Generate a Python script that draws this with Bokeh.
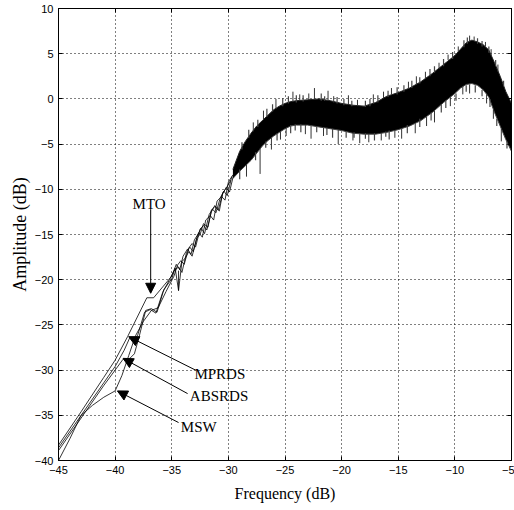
from bokeh.plotting import figure
from bokeh.models import (FixedTicker, LinearAxis, Arrow, NormalHead, ColumnDataSource, Range1d)
from bokeh.core.properties import value
from bokeh.embed import file_html
from bokeh.resources import INLINE

# ---------------- data ----------------
x_ticks = [-45, -40, -35, -30, -25, -20, -15, -10, -5]
y_ticks = [-40, -35, -30, -25, -20, -15, -10, -5, 0, 5, 10]

mto_x = [-45, -43, -41, -40, -38.9, -37.2, -36.6, -35.8, -35.0, -34.6, -34.3, -34.0, -33.6, -33.3,
         -33.0, -32.6, -32.3, -32.0, -31.6, -31.3, -31.0, -30.6, -30.3, -30.0, -29.6]
mto_y = [-38.3, -34.6, -30.8, -28.9, -26.3, -22.0, -22.0, -20.8, -19.6, -18.3, -18.9, -17.4, -16.6, -17.2,
         -15.6, -14.8, -15.3, -13.4, -12.9, -13.4, -11.3, -10.8, -11.2, -9.2, -8.4]

mprds_x = [-45, -43, -41, -40, -39.2, -38.7, -38.3, -38.0, -37.4, -36.9, -36.4, -35.8, -35.2,
           -34.8, -34.4, -34.1, -33.7, -33.4, -33.1, -32.7, -32.4, -32.1, -31.7, -31.4, -31.1,
           -30.7, -30.4, -30.1, -29.7]
mprds_y = [-38.6, -35.0, -31.4, -29.6, -27.8, -26.4, -26.7, -26.1, -23.6, -23.3, -23.7, -21.4, -20.0,
           -19.0, -18.6, -19.2, -17.0, -16.4, -16.9, -15.0, -14.3, -14.9, -12.8, -12.2, -12.6,
           -10.9, -10.2, -10.7, -8.6]

absrds_x = [-45, -43, -41, -40, -39.3, -38.7, -38.3, -37.9, -37.3, -36.8, -36.3, -35.7, -35.0,
            -34.7, -34.4, -34.1, -33.8, -33.5, -33.2, -32.8, -32.5, -32.2, -31.8, -31.5, -31.2,
            -30.8, -30.5, -30.2, -29.8]
absrds_y = [-38.9, -35.3, -31.7, -30.0, -28.8, -28.7, -28.2, -26.4, -23.4, -23.2, -23.6, -21.1, -19.9,
            -18.7, -21.2, -18.0, -17.6, -16.9, -17.4, -15.4, -15.0, -13.8, -14.2, -12.3, -11.9,
            -12.4, -10.4, -9.9, -9.0]

msw_x = [-45, -44, -43, -42, -41, -40.0, -39.4, -38.8, -38.2, -37.5, -36.8, -36.2, -35.5, -34.8,
         -34.5, -34.2, -33.9, -33.5, -33.2, -32.9, -32.5, -32.2, -31.9, -31.5, -31.2, -30.9,
         -30.5, -30.2, -29.9, -29.5]
msw_y = [-40.0, -37.6, -35.0, -33.9, -33.0, -32.3, -30.6, -28.4, -26.2, -24.6, -23.4, -23.1, -21.3, -19.6,
         -18.4, -17.9, -18.3, -16.5, -16.0, -16.4, -14.4, -14.0, -14.5, -12.5, -11.8, -12.3,
         -10.5, -9.8, -10.3, -8.2]

# noisy spectrum band: upper / lower envelope
band_x = [-29.6, -29.0, -28.5, -28.0, -27.5, -27.0, -26.5, -26.0, -25.5, -25.0, -24.5, -24.0,
          -23.0, -22.0, -21.0, -20.0, -19.0, -18.0, -17.0, -16.0, -15.0, -14.0, -13.0, -12.0,
          -11.0, -10.0, -9.5, -9.0, -8.5, -8.0, -7.5, -7.0, -6.5, -6.0, -5.5, -5.0]
band_hi = [-7.8, -5.8, -4.7, -3.8, -3.0, -2.4, -1.8, -1.2, -0.8, -0.5, -0.3, -0.2,
           -0.1, 0.0, -0.2, -0.5, -0.7, -0.8, -0.4, 0.3, 0.7, 1.2, 1.9, 2.8,
           3.8, 4.8, 5.5, 6.2, 6.5, 6.3, 6.0, 5.4, 4.0, 2.5, 0.8, -0.5]
band_lo = [-8.8, -8.0, -7.4, -6.8, -6.0, -5.2, -4.6, -4.1, -3.7, -3.3, -3.0, -2.9,
           -2.9, -3.1, -3.3, -3.5, -3.8, -3.9, -3.9, -3.7, -3.4, -3.0, -2.4, -1.5,
           -0.4, 0.6, 1.2, 1.6, 1.7, 1.5, 1.0, 0.2, -1.5, -3.0, -4.5, -5.8]

# long spikes (dark)
spike_x = [-34.4, -27.2, -26.2, -24.9, -23.2, -21.6, -20.3, -19.0, -17.6, -16.5, -14.7, -13.5,
           -11.8, -10.4, -8.7, -7.2, -5.9, -28.4, -25.4, -22.7, -18.4, -15.3, -12.5, -9.3, -6.6,
           -25.8, -24.3, -22.4, -21.2, -19.4, -17.2, -15.6, -14.1, -12.6, -8.7, -8.3, -7.3,
           -27.8, -26.9, -23.7, -22.9, -20.7, -18.6, -16.3, -13.4, -11.4, -10.6, -9.7, -6.8, -6.2]
spike_from = [-19.0, -5.5, -4.3, -3.2, -2.9, -3.2, -3.4, -3.8, -3.9, -3.8, -3.3, -2.7,
              -1.3, 0.2, 1.6, 0.5, -3.3, -7.2, -3.6, -3.0, -3.9, -3.5, -2.0, 1.4, -1.2,
              -1.1, -0.3, 0.0, -0.2, -0.6, -0.5, 0.5, 1.1, 2.2, 6.4, 6.4, 5.8,
              -3.6, -2.3, -0.2, -0.1, -0.4, -0.8, 0.1, 1.6, 3.3, 4.3, 5.2, 4.8, 3.0]
spike_to = [-21.2, -8.3, -5.6, -4.1, -3.9, -4.1, -5.0, -4.6, -4.8, -4.6, -4.4, -3.8,
            -2.6, -0.8, 0.6, -0.5, -4.7, -8.6, -4.5, -4.4, -4.9, -4.3, -3.0, 0.5, -2.2,
            0.0, 0.8, 1.2, 0.9, 0.4, 0.5, 1.2, 1.9, 3.0, 7.0, 6.9, 6.3,
            -2.6, -1.3, 0.5, 0.6, 0.3, -0.1, 0.8, 2.5, 4.0, 4.9, 5.8, 5.5, 3.8]

# short fuzz spikes along the band edges (lighter)
fuzz_x = [-28.8, -28.2, -27.4, -26.6, -26.1, -25.2, -24.7, -24.0, -23.4, -21.8, -21.5, -20.4,
          -19.8, -19.1, -17.9, -17.5, -16.8, -15.9, -15.1, -14.5, -13.8, -13.1, -12.2, -11.8,
          -11.0, -10.2, -9.2, -8.9, -8.0, -7.6, -7.0, -6.4, -5.7,
          -29.0, -27.6, -26.7, -25.7, -24.5, -24.1, -23.6, -22.2, -21.3, -20.8, -19.6, -18.9,
          -17.9, -17.1, -16.1, -15.8, -14.2, -13.1, -12.1, -11.2, -10.8, -9.9, -9.0, -8.2,
          -7.6, -6.9, -6.3, -5.4]
fuzz_from = [-5.6, -4.3, -3.1, -2.0, -1.4, -0.8, -0.5, -0.4, -0.3, -0.2, -0.2, -0.5,
             -0.7, -0.8, -0.9, -0.8, -0.4, 0.2, 0.5, 0.8, 1.2, 1.7, 2.5, 2.9,
             3.6, 4.4, 5.7, 6.1, 6.1, 5.8, 5.1, 3.6, 1.4,
             -7.8, -5.9, -4.7, -3.8, -2.9, -2.8, -2.8, -3.0, -3.2, -3.3, -3.6, -3.7,
             -3.8, -3.8, -3.6, -3.5, -2.9, -2.2, -1.5, -0.6, -0.2, 0.6, 1.5, 1.5,
             1.0, 0.0, -2.2, -4.7]
fuzz_to = [-4.8, -3.4, -2.3, -1.1, -0.6, 0.1, 0.3, 0.4, 0.4, 0.6, 0.3, 0.2,
           0.0, -0.2, -0.2, 0.0, 0.4, 0.9, 1.3, 1.5, 2.0, 2.4, 3.3, 3.6,
           4.4, 5.2, 6.5, 6.8, 6.7, 6.4, 5.8, 4.3, 2.0,
           -8.9, -6.8, -5.4, -4.6, -3.8, -3.5, -3.7, -3.7, -4.0, -4.3, -4.3, -4.3,
           -4.4, -4.6, -4.2, -4.5, -3.8, -3.1, -2.4, -1.5, -1.0, -0.2, 0.8, 0.7,
           0.3, -0.9, -3.0, -5.5]

# annotations
label_text = ["MTO", "MPRDS", "ABSRDS", "MSW"]
label_x = [-37.0, -33.0, -33.4, -34.2]
label_y = [-11.6, -30.4, -32.9, -36.3]
label_align = ["center", "left", "left", "left"]
arrow_x0 = [-36.86, -32.9, -33.6, -34.4]
arrow_y0 = [-12.2, -30.0, -32.6, -35.8]
arrow_x1 = [-36.86, -38.8, -39.3, -39.8]
arrow_y1 = [-21.5, -26.3, -28.7, -32.3]

# ---------------- figure ----------------
p = figure(width=514, height=510, x_range=Range1d(-45, -5), y_range=Range1d(-40, 10),
           output_backend="svg", toolbar_location=None,
           min_border_left=58, min_border_right=3, min_border_top=8, min_border_bottom=50)
p.background_fill_color = "white"
p.border_fill_color = "white"
p.outline_line_color = "black"
p.outline_line_width = 1

serif = "Liberation Serif"
sans = "Liberation Sans"

minus = "\u2212"
xover = {t: (minus + str(abs(t)) if t < 0 else str(t)) for t in x_ticks}
yover = {t: (minus + str(abs(t)) if t < 0 else str(t)) for t in y_ticks}

for ax in p.xaxis:
    ax.ticker = FixedTicker(ticks=x_ticks)
    ax.major_label_overrides = xover
    ax.axis_label = "Frequency (dB)"
    ax.axis_label_text_font_size = "16px"
for ax in p.yaxis:
    ax.ticker = FixedTicker(ticks=y_ticks)
    ax.major_label_overrides = yover
    ax.axis_label = "Amplitude (dB)"
    ax.axis_label_text_font_size = "18px"

for ax in list(p.xaxis) + list(p.yaxis):
    ax.axis_label_text_font = serif
    ax.axis_label_text_font_style = "normal"
    ax.axis_label_text_color = "black"
    ax.major_label_text_font = sans
    ax.major_label_text_font_size = "11px"
    ax.major_label_text_color = "black"
    ax.major_tick_in = 4
    ax.major_tick_out = 0
    ax.minor_tick_line_color = None
    ax.axis_line_color = "black"
    ax.major_tick_line_color = "black"
p.xaxis.axis_label_standoff = 8
p.xaxis.major_label_standoff = 5
p.yaxis.axis_label_standoff = 2
p.yaxis.major_label_standoff = 5

# right and top axes: inward ticks only, no labels
ra = LinearAxis(ticker=FixedTicker(ticks=y_ticks), major_label_overrides={t: "" for t in y_ticks},
                major_label_text_color=None, major_label_text_font_size="1px",
                major_tick_in=4, major_tick_out=0, minor_tick_line_color=None,
                major_label_standoff=0, axis_line_color="black")
ta = LinearAxis(ticker=FixedTicker(ticks=x_ticks), major_label_overrides={t: "" for t in x_ticks},
                major_label_text_color=None, major_label_text_font_size="1px",
                major_tick_in=4, major_tick_out=0, minor_tick_line_color=None,
                major_label_standoff=0, axis_line_color="black")
p.add_layout(ra, "right")
p.add_layout(ta, "above")

p.xgrid.ticker = FixedTicker(ticks=x_ticks)
p.ygrid.ticker = FixedTicker(ticks=y_ticks)
for g in [p.xgrid, p.ygrid]:
    g.grid_line_color = "black"
    g.grid_line_dash = "1 3"
    g.grid_line_width = 1
    g.grid_line_alpha = 1.0

# band
p.varea(x=band_x, y1=band_lo, y2=band_hi, fill_color="black")
p.line(band_x, band_hi, line_color="#222222", line_width=1)
p.line(band_x, band_lo, line_color="#444444", line_width=1)
p.segment(x0=fuzz_x, y0=fuzz_from, x1=fuzz_x, y1=fuzz_to, line_color="#444444", line_width=1.2)
p.segment(x0=spike_x, y0=spike_from, x1=spike_x, y1=spike_to, line_color="#333333", line_width=1)

# curves
for cx, cy in [(mto_x, mto_y), (mprds_x, mprds_y), (absrds_x, absrds_y), (msw_x, msw_y)]:
    p.line(cx, cy, line_color="black", line_width=0.8)

# arrows + labels
asrc = ColumnDataSource(dict(x0=arrow_x0, y0=arrow_y0, x1=arrow_x1, y1=arrow_y1))
p.add_layout(Arrow(end=NormalHead(size=10, fill_color="black", line_color="black", line_width=1),
                   x_start="x0", y_start="y0", x_end="x1", y_end="y1", source=asrc,
                   line_color="black", line_width=1))
p.text(x=label_x, y=label_y, text=label_text, text_align=label_align, text_baseline="middle",
       text_font=value(serif), text_font_size="15px", text_color="black")

open("out.html", "w").write(file_html(p, INLINE))
